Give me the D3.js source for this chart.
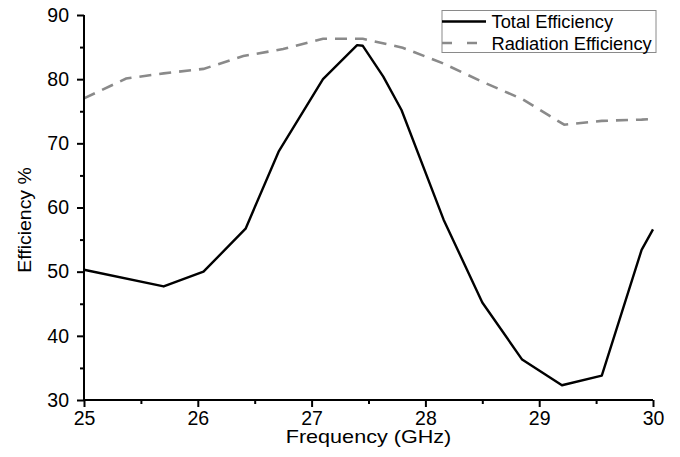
<!DOCTYPE html>
<html>
<head>
<meta charset="utf-8">
<script src="https://cdn.jsdelivr.net/npm/d3@7"></script>
<style>
  html, body { margin: 0; padding: 0; background: #fff; }
  svg { display: block; }
  text { font-family: "Liberation Sans", Arial, sans-serif; fill: #000; }
</style>
</head>
<body>
<div id="chart"></div>
<script>
// ---- Data ----
const totalFreq = [25.0, 25.70, 26.05, 26.42, 26.71, 27.10, 27.40, 27.45, 27.63, 27.79, 28.16, 28.50, 28.85, 29.20, 29.55, 29.90, 30.0];
const totalEff  = [50.3, 47.7, 50.0, 56.7, 68.7, 80.0, 85.3, 85.2, 80.4, 75.2, 58.1, 45.2, 36.3, 32.3, 33.8, 53.4, 56.6];

const radFreq = [25.0, 25.37, 25.70, 26.05, 26.40, 26.75, 27.10, 27.45, 27.80, 28.15, 28.50, 28.85, 29.22, 29.55, 29.90, 30.0];
const radEff  = [77.0, 80.1, 80.9, 81.6, 83.6, 84.7, 86.3, 86.3, 84.9, 82.5, 79.6, 76.9, 72.9, 73.5, 73.7, 73.8];

const xTicks = [25, 26, 27, 28, 29, 30];
const xMinorTicks = [25.5, 26.5, 27.5, 28.5, 29.5];
const yTicks = [30, 40, 50, 60, 70, 80, 90];
const yMinorTicks = [35, 45, 55, 65, 75, 85];
const seriesNames = ["Total Efficiency", "Radiation Efficiency"];
const xTitle = "Frequency (GHz)";
const yTitle = "Efficiency %";

// ---- Layout ----
const W = 680, H = 457;
const L = 84, R = 653, T = 15, B = 400;

const svg = d3.select("#chart").append("svg").attr("width", W).attr("height", H);

const x = d3.scaleLinear().domain([25, 30]).range([L, R]);
const y = d3.scaleLinear().domain([30, 90]).range([B, T]);

// Lines
const line = d3.line().x(d => x(d[0])).y(d => y(d[1]));

svg.append("path")
  .datum(radFreq.map((f, i) => [f, radEff[i]]))
  .attr("d", line)
  .attr("fill", "none")
  .attr("stroke", "#8a8a8a")
  .attr("stroke-width", 2.6)
  .attr("stroke-dasharray", "12,8");

svg.append("path")
  .datum(totalFreq.map((f, i) => [f, totalEff[i]]))
  .attr("d", line)
  .attr("fill", "none")
  .attr("stroke", "#000")
  .attr("stroke-width", 2.4)
  .attr("stroke-linejoin", "round");

// Axes
const xAxis = svg.append("g").attr("transform", `translate(0,${B})`)
  .call(d3.axisBottom(x).tickValues(xTicks).tickFormat(d3.format("d")).tickSize(7).tickPadding(6));
const xMinor = svg.append("g").attr("transform", `translate(0,${B})`)
  .call(d3.axisBottom(x).tickValues(xMinorTicks).tickFormat("").tickSize(4));
const yAxis = svg.append("g").attr("transform", `translate(${L},0)`)
  .call(d3.axisLeft(y).tickValues(yTicks).tickFormat(d3.format("d")).tickSize(7).tickPadding(8));
const yMinor = svg.append("g").attr("transform", `translate(${L},0)`)
  .call(d3.axisLeft(y).tickValues(yMinorTicks).tickFormat("").tickSize(4));

[xAxis, xMinor, yAxis, yMinor].forEach(g => {
  g.select(".domain").attr("stroke", "#000").attr("stroke-width", 2);
  g.selectAll(".tick line").attr("stroke", "#000").attr("stroke-width", 2);
  g.selectAll(".tick text")
    .attr("font-family", '"Liberation Sans", Arial, sans-serif')
    .attr("font-size", 19.5).attr("fill", "#000");
});
xMinor.select(".domain").remove();
yMinor.select(".domain").remove();
xAxis.select(".domain").attr("d", `M${L},0H${R}`);
yAxis.select(".domain").attr("d", `M0,${B}V${T}`);
xAxis.selectAll(".tick text").attr("dy", "0.71em").attr("y", 11);

// Axis titles
svg.append("text")
  .attr("transform", `translate(${(L + R) / 2},443) scale(1.2,1)`)
  .attr("text-anchor", "middle")
  .attr("font-size", 18)
  .text(xTitle);

svg.append("text")
  .attr("transform", `translate(31,${220}) rotate(-90) scale(1.08,1)`)
  .attr("text-anchor", "middle")
  .attr("font-size", 18)
  .text(yTitle);

// Legend
const lg = svg.append("g");
lg.append("rect")
  .attr("x", 442).attr("y", 10.5).attr("width", 214).attr("height", 42)
  .attr("fill", "#fff").attr("stroke", "#8a8a8a").attr("stroke-width", 1);
const rows = [
  { name: seriesNames[0], cy: 21.5, stroke: "#000", dash: null, w: 2.4 },
  { name: seriesNames[1], cy: 43, stroke: "#8a8a8a", dash: "10,15", w: 2.6 }
];
rows.forEach(r => {
  lg.append("line")
    .attr("x1", 442).attr("x2", 486).attr("y1", r.cy).attr("y2", r.cy)
    .attr("stroke", r.stroke).attr("stroke-width", r.w)
    .attr("stroke-dasharray", r.dash);
  lg.append("text")
    .attr("x", 491.5).attr("y", r.cy + 6.7)
    .attr("font-size", 18.3)
    .text(r.name);
});
</script>
</body>
</html>
